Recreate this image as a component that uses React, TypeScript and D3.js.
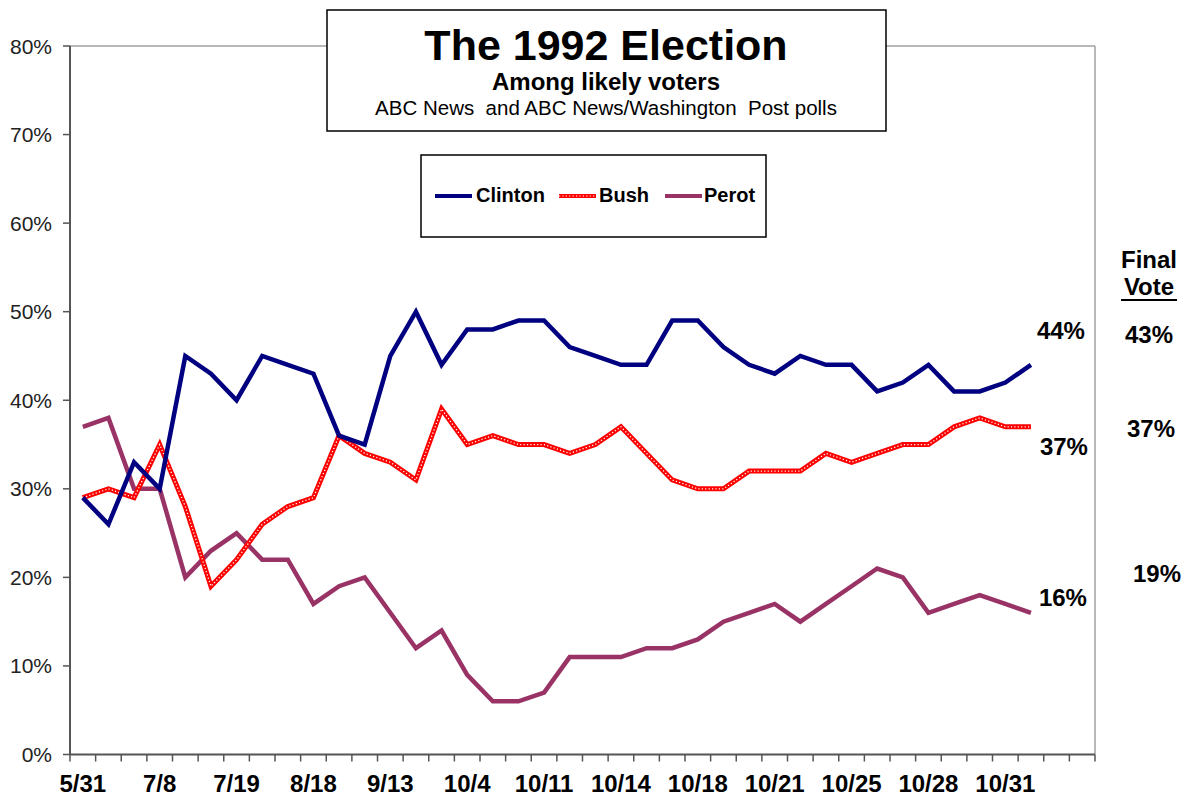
import React from "react";
import { scaleLinear, scaleBand, line, range } from "d3";

// poll dates shown on the axis (every third poll)
const tickLabels = ["5/31", "7/8", "7/19", "8/18", "9/13", "10/4", "10/11", "10/14", "10/18", "10/21", "10/25", "10/28", "10/31"];
const slotCount = 40;
const yTicks = [0, 0.1, 0.2, 0.3, 0.4, 0.5, 0.6, 0.7, 0.8];

const clinton = [29, 26, 33, 30, 45, 43, 40, 45, 44, 43, 36, 35, 45, 50, 44, 48, 48, 49, 49, 46, 45, 44, 44, 49, 49, 46, 44, 43, 45, 44, 44, 41, 42, 44, 41, 41, 42, 44];
const bush = [29, 30, 29, 35, 28, 19, 22, 26, 28, 29, 36, 34, 33, 31, 39, 35, 36, 35, 35, 34, 35, 37, 34, 31, 30, 30, 32, 32, 32, 34, 33, 34, 35, 35, 37, 38, 37, 37];
const perot = [37, 38, 30, 30, 20, 23, 25, 22, 22, 17, 19, 20, 16, 12, 14, 9, 6, 6, 7, 11, 11, 11, 12, 12, 13, 15, 16, 17, 15, 17, 19, 21, 20, 16, 17, 18, 17, 16];

const finalVote = { Clinton: 43, Bush: 37, Perot: 19 };

const NAVY = "#000080";
const RED = "#ff0000";
const PLUM = "#993366";
const FONT = "'Liberation Sans', Arial, sans-serif";

const W = 1186;
const H = 797;
const plot = { left: 70, right: 1095, top: 46, bottom: 754.5 };

export default function App() {
  const x = scaleBand<number>()
    .domain(range(slotCount))
    .range([plot.left, plot.right])
    .padding(0);
  const y = scaleLinear().domain([0, 0.8]).range([plot.bottom, plot.top]);
  const cx = (i: number) => (x(i) as number) + x.bandwidth() / 2;

  const path = line<number>()
    .x((_, i) => cx(i))
    .y((d) => y(d / 100));

  const lastIdx = clinton.length - 1;
  const endX = cx(lastIdx) + 30;

  return (
    <svg
      width={W}
      height={H}
      style={{ position: "absolute", left: 0, top: 0, background: "#fff" }}
      fontFamily={FONT}
    >
      {/* frame */}
      <line x1={plot.left} x2={plot.right} y1={plot.top} y2={plot.top} stroke="#a0a0a0" strokeWidth={1.5} />
      <line x1={plot.right} x2={plot.right} y1={plot.top} y2={plot.bottom} stroke="#a0a0a0" strokeWidth={1.5} />
      <line x1={plot.left} x2={plot.left} y1={plot.top} y2={plot.bottom} stroke="#555" strokeWidth={2} />
      <line x1={plot.left} x2={plot.right} y1={plot.bottom} y2={plot.bottom} stroke="#555" strokeWidth={2} />

      {/* y axis */}
      {yTicks.map((t) => (
        <g key={t}>
          <line x1={plot.left - 7} x2={plot.left} y1={y(t)} y2={y(t)} stroke="#555" strokeWidth={1.5} />
          <text x={52} y={y(t)} dy="0.36em" textAnchor="end" fontSize={21} fill="#222">
            {Math.round(t * 100)}%
          </text>
        </g>
      ))}

      {/* x axis ticks between slots */}
      {range(slotCount + 1).map((i) => {
        const xx = i < slotCount ? (x(i) as number) : plot.right;
        return <line key={i} x1={xx} x2={xx} y1={plot.bottom} y2={plot.bottom + 7} stroke="#555" strokeWidth={1.5} />;
      })}
      {tickLabels.map((l, k) => (
        <text key={l} x={cx(k * 3)} y={792} textAnchor="middle" fontSize={24} fontWeight="bold" fill="#000">
          {l}
        </text>
      ))}

      {/* series */}
      <path d={path(perot) || ""} fill="none" stroke={PLUM} strokeWidth={4.5} />
      <path d={path(bush) || ""} fill="none" stroke={RED} strokeWidth={5} />
      <path d={path(bush) || ""} fill="none" stroke="#fff" strokeWidth={1.3} strokeDasharray="1.2 2.2" />
      <path d={path(clinton) || ""} fill="none" stroke={NAVY} strokeWidth={4.5} />

      {/* end labels */}
      <text x={endX} y={339} textAnchor="middle" fontSize={24} fontWeight="bold">{clinton[lastIdx]}%</text>
      <text x={endX + 3} y={455} textAnchor="middle" fontSize={24} fontWeight="bold">{bush[lastIdx]}%</text>
      <text x={endX + 2} y={606} textAnchor="middle" fontSize={24} fontWeight="bold">{perot[lastIdx]}%</text>

      {/* final vote column */}
      <text x={1149} y={268} textAnchor="middle" fontSize={24} fontWeight="bold">Final</text>
      <text x={1149} y={295} textAnchor="middle" fontSize={24} fontWeight="bold">Vote</text>
      <line x1={1121} x2={1177} y1={300} y2={300} stroke="#000" strokeWidth={2} />
      <text x={1149} y={343} textAnchor="middle" fontSize={24} fontWeight="bold">{finalVote.Clinton}%</text>
      <text x={1151} y={437} textAnchor="middle" fontSize={24} fontWeight="bold">{finalVote.Bush}%</text>
      <text x={1157} y={582} textAnchor="middle" fontSize={24} fontWeight="bold">{finalVote.Perot}%</text>

      {/* title box */}
      <rect x={327} y={10} width={559} height={121} fill="#fff" stroke="#000" strokeWidth={1.5} />
      <text x={606} y={60} textAnchor="middle" fontSize={43} fontWeight="bold">The 1992 Election</text>
      <text x={606} y={90} textAnchor="middle" fontSize={24} fontWeight="bold">Among likely voters</text>
      <text x={606} y={115} textAnchor="middle" fontSize={20.5} xmlSpace="preserve">
        ABC News  and ABC News/Washington  Post polls
      </text>

      {/* legend */}
      <rect x={421} y={155} width={345} height={82} fill="#fff" stroke="#000" strokeWidth={1.5} />
      <line x1={435} x2={472} y1={196} y2={196} stroke={NAVY} strokeWidth={4} />
      <text x={476} y={202} fontSize={20} fontWeight="bold">Clinton</text>
      <line x1={559} x2={596} y1={196} y2={196} stroke={RED} strokeWidth={4} />
      <line x1={559} x2={596} y1={196} y2={196} stroke="#fff" strokeWidth={1.2} strokeDasharray="1.2 2.2" />
      <text x={599} y={202} fontSize={20} fontWeight="bold">Bush</text>
      <line x1={665} x2={702} y1={196} y2={196} stroke={PLUM} strokeWidth={4} />
      <text x={704} y={202} fontSize={20} fontWeight="bold">Perot</text>
    </svg>
  );
}
